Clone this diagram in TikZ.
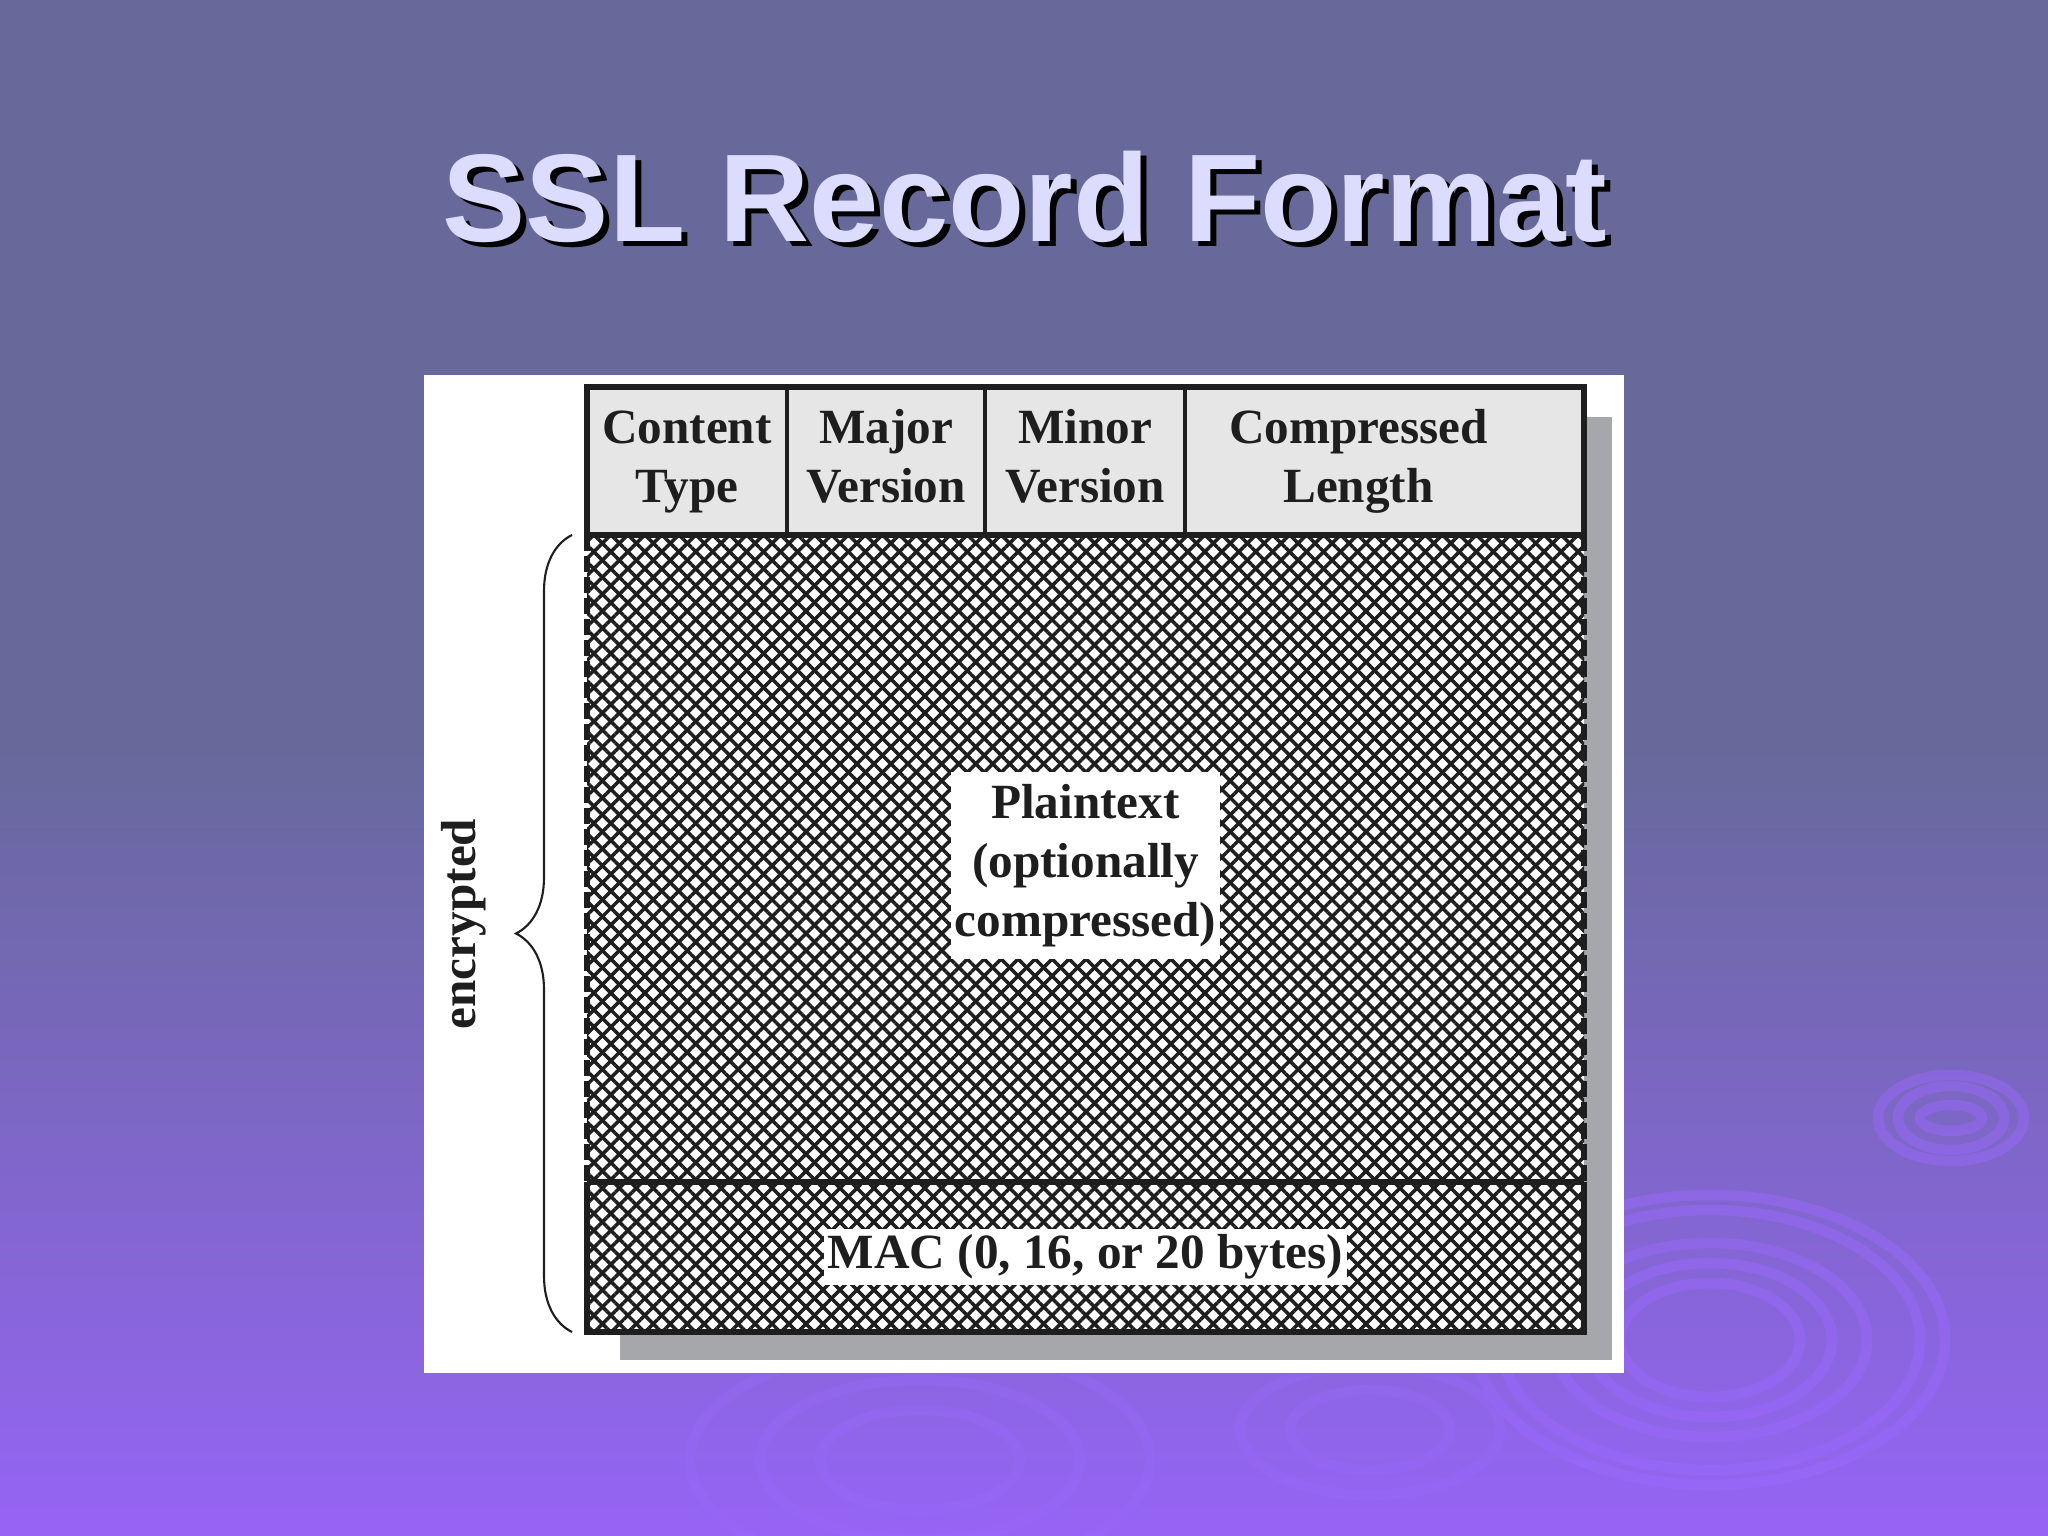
\documentclass[tikz,border=0pt]{standalone}
\usepackage{fontspec}
\setmainfont{Liberation Serif}
\newfontfamily\titlefont{Liberation Sans}
\usetikzlibrary{positioning,patterns.meta,decorations.pathreplacing}

\definecolor{bgtop}{RGB}{103,105,155}
\definecolor{bgbot}{RGB}{150,100,245}
\definecolor{ripple}{RGB}{155,105,255}
\definecolor{titlecol}{RGB}{220,220,255}
\definecolor{cellgray}{RGB}{230,230,230}
\definecolor{shadowgray}{RGB}{166,167,170}
\definecolor{ink}{RGB}{30,30,30}

\newcommand{\shadowed}[1]{\rlap{\hspace{0.06cm}\raisebox{-0.05cm}{\color{black}#1}}#1}

\begin{document}
\begin{tikzpicture}[
    x=1cm, y=-1cm,
    font=\fontsize{14}{16.8}\selectfont\bfseries,
    field/.style={
		rectangle,
		draw=ink,
		line width=1.1pt,
		fill=cellgray,
		text=ink,
		inner sep=0pt,
		outer sep=0pt,
		minimum height=1.48cm
	},
	area/.style={
		rectangle,
		inner sep=0pt,
		outer sep=0pt,
		minimum width=9.97cm,
		preaction={fill=white},
		pattern={Lines[angle=45, distance=0.12cm, line width=1pt]},
		pattern color=ink,
		postaction={pattern={Lines[angle=-45, distance=0.12cm, line width=1pt]}, pattern color=ink}
	},
	tag/.style={
		fill=white,
		text=ink,
		inner xsep=1pt,
		inner ysep=1.5pt
	},
	rim/.style={
		draw=ink,
		line width=1.7pt
	},
	curly/.style={
		decorate,
		decoration={brace, amplitude=0.56cm},
		draw=ink,
		line width=0.6pt
	},
	ring/.style={
		draw=ripple,
		line width=3pt,
		opacity=0.45
	}
  ]
    % slide background
  \useasboundingbox (0,0) rectangle (20.48,15.36);
  \fill[bgtop] (0,0) rectangle (20.48,7.5);
  \shade[top color=bgtop, bottom color=bgbot] (0,7.49) rectangle (20.48,15.36);
  \foreach \rx/\ry in {0.9/0.57, 1.22/0.77, 1.57/0.97, 2.1/1.3, 2.35/1.45}
    \draw[ring] (17.1,13.4) ellipse [x radius=\rx, y radius=\ry];
  \foreach \rx/\ry in {0.31/0.13, 0.53/0.32, 0.73/0.43}
    \draw[ring] (19.51,11.18) ellipse [x radius=\rx, y radius=\ry];
  \foreach \rx/\ry in {1.0/0.5, 1.6/0.8, 2.3/1.15}
    \draw[ring, opacity=0.25] (9.2,14.6) ellipse [x radius=\rx, y radius=\ry];
  \foreach \rx/\ry in {0.8/0.4, 1.3/0.65}
    \draw[ring, opacity=0.25] (13.7,14.3) ellipse [x radius=\rx, y radius=\ry];

    % title
  \node [anchor=base, text=titlecol, font=\titlefont\bfseries\fontsize{35.5}{40}\selectfont] (title) at (10.25,2.42) {\shadowed{SSL Record Format}};

    % figure panel and its shadow
  \fill[white] (4.24,3.75) rectangle (16.24,13.73);
  \fill[shadowgray] (6.20,4.17) rectangle (16.12,13.60);

    % header fields
  \node [field, minimum width=2.0cm, anchor=north west] (ctype) at (5.87,3.87)
 {%
 \begin{tabular}{@{}c@{}}
  Content\\
  Type
 \end{tabular}
 };

  \node [field, minimum width=1.98cm, right=0pt of ctype] (major)
 {%
 \begin{tabular}{@{}c@{}}
  Major\\
  Version
 \end{tabular}
 };

  \node [field, minimum width=2.0cm, right=0pt of major] (minor)
 {%
 \begin{tabular}{@{}c@{}}
  Minor\\
  Version
 \end{tabular}
 };

  \node [field, minimum width=3.99cm, right=0pt of minor] (clen)
 {%
 \begin{tabular}{@{}c@{}}
  Compressed\\
  Length
 \end{tabular}\hspace{0.52cm}
 };

    % body of the record
  \node [area, anchor=north west, minimum height=6.47cm] (plain) at (ctype.south west) {};
  \node [area, minimum height=1.5cm, below=0pt of plain] (mac) {};

  \node [tag] (ptext) at ([yshift=-0.07cm]plain.center)
 {%
 \begin{tabular}{@{}c@{}}
  Plaintext\\
  (optionally\\
  compressed)
 \end{tabular}
 };
  \node [tag] (mtext) at (mac.center) {MAC (0, 16, or 20 bytes)};

    % outlines
  \draw [rim] (ctype.south west) |- (clen.north east) -- (clen.south east);
  \draw [rim] (plain.north west) -- (plain.north east);
  \draw [rim, dash pattern=on 0.16cm off 0.05cm] (plain.north west) -- (plain.south west);
  \draw [rim, dash pattern=on 0.16cm off 0.05cm] (plain.north east) -- (plain.south east);
  \draw [rim] (mac.north west) -- (mac.north east);
  \draw [rim] (mac.north west) -- (mac.south west) -- (mac.south east) -- (mac.north east);

    % encrypted span
  \draw [curly] ([xshift=-0.15cm]mac.south west) -- ([xshift=-0.15cm]plain.north west);
  \node [rotate=90, text=ink] (enc) at (4.64,9.24) {encrypted};

\end{tikzpicture}
\end{document}
